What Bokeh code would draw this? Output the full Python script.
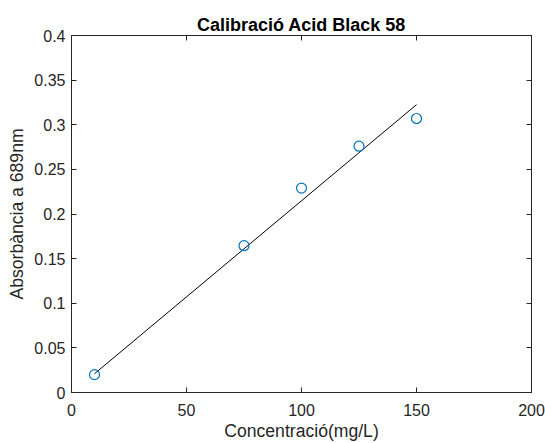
from bokeh.plotting import figure
from bokeh.models import LinearAxis, FixedTicker, Range1d
from bokeh.embed import file_html
from bokeh.resources import INLINE

# data
conc = [10, 75, 100, 125, 150]
absorb = [0.020, 0.1645, 0.229, 0.276, 0.307]
fit_x = [10, 150]
fit_y = [0.021, 0.3225]
x_ticks = [0, 50, 100, 150, 200]
y_ticks = [0, 0.05, 0.1, 0.15, 0.2, 0.25, 0.3, 0.35, 0.4]

FONT = "Liberation Sans"
TXT = "#262626"

p = figure(width=545, height=443, output_backend="svg", toolbar_location=None,
           x_range=Range1d(0, 200), y_range=Range1d(0, 0.4),
           min_border_left=71, min_border_right=14, min_border_top=35, min_border_bottom=51,
           title="Calibració Acid Black 58")
p.background_fill_color = "white"
p.border_fill_color = "white"
p.outline_line_color = TXT
p.outline_line_width = 1
p.xgrid.visible = False
p.ygrid.visible = False

p.title.text_font = FONT
p.title.text_font_size = "18px"
p.title.text_font_style = "bold"
p.title.align = "center"
p.title.text_color = "black"
p.title.standoff = 2

def style(ax, labels=True):
    ax.axis_line_color = TXT
    ax.major_tick_line_color = TXT
    ax.major_tick_in = 5
    ax.major_tick_out = 0
    ax.minor_tick_line_color = None
    ax.major_label_text_font = FONT
    ax.major_label_text_font_size = "16px"
    ax.major_label_text_color = TXT
    ax.axis_label_text_font = FONT
    ax.axis_label_text_font_size = "17.6px"
    ax.axis_label_text_font_style = "normal"
    ax.axis_label_text_color = TXT
    if not labels:
        ax.major_label_text_font_size = "0px"
        ax.major_label_text_color = None

xa = p.xaxis[0]
ya = p.yaxis[0]
xa.ticker = FixedTicker(ticks=x_ticks)
ya.ticker = FixedTicker(ticks=y_ticks)
xa.major_label_overrides = {0: "0", 50: "50", 100: "100", 150: "150", 200: "200"}
ya.major_label_overrides = {0: "0", 0.05: "0.05", 0.1: "0.1", 0.15: "0.15", 0.2: "0.2",
                            0.25: "0.25", 0.3: "0.3", 0.35: "0.35", 0.4: "0.4"}
style(xa)
style(ya)
xa.axis_label = "Concentració(mg/L)"
ya.axis_label = "Absorbància a 689nm"
xa.major_label_standoff = 11
xa.axis_label_standoff = 2
ya.major_label_standoff = 6
ya.axis_label_standoff = 4

top = LinearAxis(ticker=FixedTicker(ticks=x_ticks))
right = LinearAxis(ticker=FixedTicker(ticks=y_ticks))
style(top, labels=False)
style(right, labels=False)
top.major_label_standoff = 0
right.major_label_standoff = 0
p.add_layout(top, "above")
p.add_layout(right, "right")

p.line(fit_x, fit_y, line_color="black", line_width=1)
p.scatter(conc, absorb, marker="circle", size=10, fill_color=None,
          line_color="#0072BD", line_width=1.2)

open("out.html", "w").write(file_html(p, INLINE))
